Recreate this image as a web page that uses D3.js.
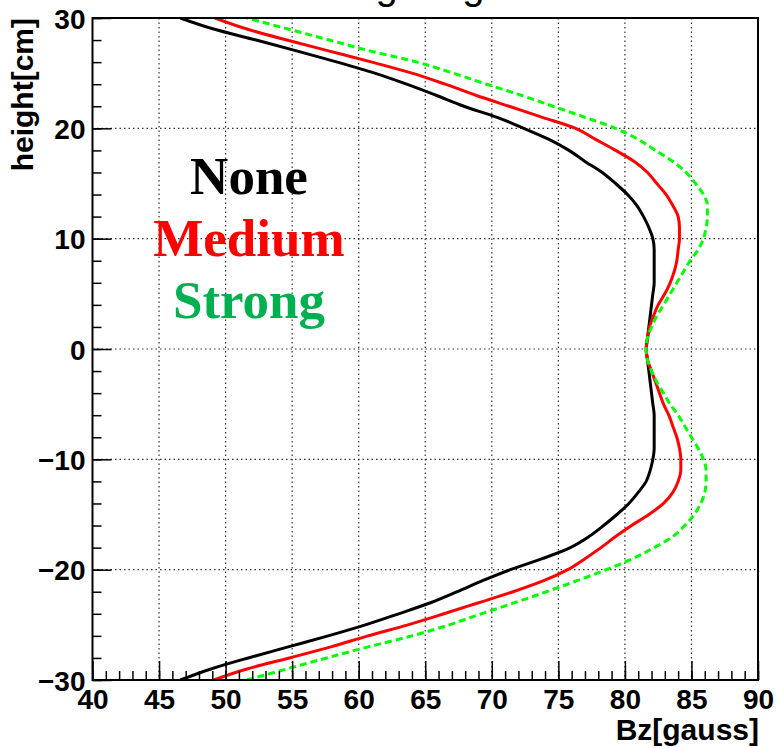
<!DOCTYPE html>
<html>
<head>
<meta charset="utf-8">
<script src="https://cdn.jsdelivr.net/npm/d3@7"></script>
<style>
  body { margin: 0; background: #fff; }
  svg { display: block; }
  .tickLabel { font-family: "Liberation Sans", Arial, sans-serif; font-weight: bold; font-size: 28px; fill: #000; }
  .axisTitle { font-family: "Liberation Sans", Arial, sans-serif; font-weight: bold; font-size: 30px; fill: #000; }
  .legendText { font-family: "Liberation Serif", "Times New Roman", serif; font-weight: bold; font-size: 53px; }
</style>
</head>
<body>
<div id="chart"></div>
<script>

/* data: height [cm] and Bz [gauss] per setting */
var heights = [-30, -29, -28, -27, -26, -25, -24, -23, -22, -21, -20, -19, -18, -17, -16, -15, -14, -13, -12, -11,
  -10, -9, -8, -7, -6, -5, -4, -3, -2, -1, 0, 1, 2, 3, 4, 5, 6, 7, 8, 9,
  10, 11, 12, 13, 14, 15, 16, 17, 18, 19, 20, 21, 22, 23, 24, 25, 26, 27, 28, 29, 30]

var bzNone = [46.6, 48.9, 51.7, 54.7, 57.7, 60.5, 63.0, 65.4, 67.4, 69.3, 71.4, 73.8, 75.9, 77.3, 78.4, 79.4, 80.3, 81.0, 81.6, 81.9,
  82.1, 82.2, 82.2, 82.2, 82.2, 82.1, 82.0, 81.9, 81.8, 81.7, 81.6, 81.7, 81.8, 81.9, 82.0, 82.1, 82.2, 82.2, 82.2, 82.2,
  82.1, 81.8, 81.4, 80.9, 80.2, 79.3, 78.3, 77.0, 75.8, 74.3, 72.4, 70.4, 67.9, 65.8, 63.6, 61.2, 58.4, 55.4, 52.3, 49.1, 46.6]

var bzMedium = [49.1, 51.6, 54.8, 57.9, 60.7, 63.7, 66.4, 69.0, 71.6, 73.9, 75.7, 77.0, 78.2, 79.3, 80.5, 81.8, 82.9, 83.6, 84.0, 84.2,
  84.2, 84.1, 83.9, 83.6, 83.3, 82.9, 82.6, 82.3, 82.0, 81.7, 81.6, 81.7, 81.85, 82.15, 82.5, 83.0, 83.4, 83.7, 83.9, 84.0,
  84.1, 84.1, 84.0, 83.6, 83.1, 82.4, 81.7, 80.7, 79.3, 77.8, 76.3, 73.8, 71.3, 68.8, 66.5, 64.0, 61.0, 57.8, 54.6, 51.6, 49.2]

var bzStrong = [51.6, 54.6, 57.6, 60.7, 64.0, 66.8, 69.2, 71.7, 74.1, 76.4, 78.6, 80.6, 82.2, 83.6, 84.5, 85.2, 85.7, 86.0, 86.1, 86.1,
  85.9, 85.5, 85.0, 84.5, 84.0, 83.4, 82.9, 82.4, 82.0, 81.7, 81.6, 81.7, 82.0, 82.4, 82.9, 83.4, 83.9, 84.4, 84.9, 85.5,
  85.9, 86.1, 86.2, 86.2, 85.9, 85.3, 84.6, 83.6, 82.3, 81.0, 79.3, 77.0, 74.6, 72.2, 69.6, 67.1, 64.4, 60.9, 57.8, 54.7, 51.6]

var seriesNames = ["None", "Medium", "Strong"]
var xMajorTicks = [40, 45, 50, 55, 60, 65, 70, 75, 80, 85, 90]
var yMajorTicks = [-30, -20, -10, 0, 10, 20, 30]
var titleText = "Bz along height"
var xTitle = "Bz[gauss]"
var yTitle = "height[cm]"

var lineColors = { "None": "#000000", "Medium": "#ff0000", "Strong": "#00ff00" }
var labelColors = { "None": "#000000", "Medium": "#ff0000", "Strong": "#00b050" }

var layout = {
  width: 776,
  height: 748,
  left: 92.5,
  right: 758,
  top: 18,
  bottom: 680,
  majorTick: 19,
  minorTick: 9,
  labelX: 249,
  labelY0: 194,
  labelStep: 62
}

var x = d3.scaleLinear().domain([40, 90]).range([layout.left, layout.right])
var y = d3.scaleLinear().domain([-30, 30]).range([layout.bottom, layout.top])

var seriesData = {
  "None": heights.map(function(h, i) { return { h: h, bz: bzNone[i] } }),
  "Medium": heights.map(function(h, i) { return { h: h, bz: bzMedium[i] } }),
  "Strong": heights.map(function(h, i) { return { h: h, bz: bzStrong[i] } })
}

var svg = d3.select("#chart").append("svg")
  .attr("width", layout.width)
  .attr("height", layout.height)

svg.append("rect")
  .attr("width", layout.width)
  .attr("height", layout.height)
  .style("fill", "#fff")

svg.append("defs").append("clipPath")
  .attr("id", "plotClip")
  .append("rect")
  .attr("x", layout.left)
  .attr("y", layout.top)
  .attr("width", layout.right - layout.left)
  .attr("height", layout.bottom - layout.top)

/* title, only the descenders peek in at the top edge */
svg.append("text")
  .text(titleText)
  .attr("x", 380)
  .attr("y", -1)
  .attr("text-anchor", "middle")
  .style("font-family", "Liberation Sans, Arial, sans-serif")
  .style("font-size", "40px")

/* dotted grid */
var grid = svg.append("g").attr("class", "grid")
grid.selectAll(".gx").data(xMajorTicks.slice(1, -1)).enter()
  .append("line")
  .attr("x1", function(d) { return x(d) })
  .attr("x2", function(d) { return x(d) })
  .attr("y1", layout.top)
  .attr("y2", layout.bottom)
grid.selectAll(".gy").data(yMajorTicks.slice(1, -1)).enter()
  .append("line")
  .attr("x1", layout.left)
  .attr("x2", layout.right)
  .attr("y1", function(d) { return y(d) })
  .attr("y2", function(d) { return y(d) })
grid.selectAll("line")
  .style("stroke", "#333")
  .style("stroke-width", 1.2)
  .style("stroke-dasharray", "1.5,3")

/* curves */
var line = d3.line()
  .x(function(d) { return x(d.bz) })
  .y(function(d) { return y(d.h) })
  .curve(d3.curveMonotoneY)

var curves = svg.append("g").attr("clip-path", "url(#plotClip)")
seriesNames.forEach(function(name) {
  curves.append("path")
    .datum(seriesData[name])
    .attr("d", line)
    .style("fill", "none")
    .style("stroke", lineColors[name])
    .style("stroke-width", 3)
    .style("stroke-dasharray", name === "Strong" ? "7,4" : null)
})

/* axes, ticks pointing inward like ROOT */
var xMinor = svg.append("g")
  .attr("transform", "translate(0," + layout.bottom + ")")
  .call(d3.axisBottom(x).ticks(50).tickSize(-layout.minorTick).tickFormat(""))
var xAxis = svg.append("g")
  .attr("transform", "translate(0," + layout.bottom + ")")
  .call(d3.axisBottom(x).tickValues(xMajorTicks).tickSize(-layout.majorTick).tickPadding(9).tickFormat(d3.format("d")))
var yMinor = svg.append("g")
  .attr("transform", "translate(" + layout.left + ",0)")
  .call(d3.axisLeft(y).ticks(30).tickSize(-layout.minorTick).tickFormat(""))
var yAxis = svg.append("g")
  .attr("transform", "translate(" + layout.left + ",0)")
  .call(d3.axisLeft(y).tickValues(yMajorTicks).tickSize(-layout.majorTick).tickPadding(7).tickFormat(d3.format("d")))

svg.selectAll(".domain").remove()
svg.selectAll(".tick line").style("stroke", "#000").style("stroke-width", 1.5)
svg.selectAll(".tick text").attr("class", "tickLabel")
yAxis.selectAll(".tick text").attr("dy", "0.36em")

/* frame */
svg.append("rect")
  .attr("x", layout.left)
  .attr("y", layout.top)
  .attr("width", layout.right - layout.left)
  .attr("height", layout.bottom - layout.top)
  .style("fill", "none")
  .style("stroke", "#000")
  .style("stroke-width", 2)

/* axis titles */
svg.append("text")
  .text(xTitle)
  .attr("class", "axisTitle")
  .attr("text-anchor", "end")
  .attr("x", layout.right + 1)
  .attr("y", 740)

svg.append("text")
  .text(yTitle)
  .attr("class", "axisTitle")
  .attr("text-anchor", "end")
  .attr("transform", "translate(33," + layout.top + ") rotate(-90)")

/* series labels */
svg.selectAll(".legendText").data(seriesNames).enter()
  .append("text")
  .text(function(d) { return d })
  .attr("class", "legendText")
  .attr("text-anchor", "middle")
  .attr("x", layout.labelX)
  .attr("y", function(d, i) { return layout.labelY0 + i * layout.labelStep })
  .style("fill", function(d) { return labelColors[d] })

</script>
</body>
</html>
